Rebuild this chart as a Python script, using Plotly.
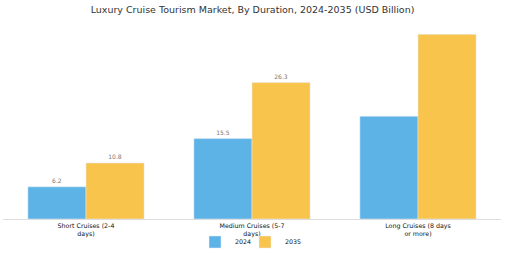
import plotly.graph_objects as go

categories = ["Short Cruises (2-4<br>days)", "Medium Cruises (5-7<br>days)", "Long Cruises (8 days<br>or more)"]
values_2024 = [6.2, 15.5, 19.8]
values_2035 = [10.8, 26.3, 35.6]
labels_2024 = ["6.2", "15.5", ""]
labels_2035 = ["10.8", "26.3", ""]

fig = go.Figure()
fig.add_trace(go.Bar(x=categories, y=values_2024, name="2024", marker_color="#5DB3E6",
                     text=labels_2024, textposition="outside", legend="legend",
                     showlegend=True,
                     textfont=dict(size=6, color="#777777"), cliponaxis=False))
fig.add_trace(go.Bar(x=categories, y=values_2035, name="2035", marker_color="#F9C44C",
                     text=labels_2035, textposition="outside", legend="legend2",
                     showlegend=True,
                     textfont=dict(size=6, color="#777777"), cliponaxis=False))

leg_common = dict(orientation="h", xanchor="left", xref="container",
                  y=11 / 253, yanchor="middle", yref="container",
                  font=dict(size=6.3, color="#111111"), itemwidth=30,
                  bgcolor="rgba(0,0,0,0)")

fig.update_layout(
    width=505, height=253,
    showlegend=True,
    margin=dict(l=3, r=4, t=25, b=34),
    paper_bgcolor="white", plot_bgcolor="white",
    barmode="group", bargap=0.3, bargroupgap=0,
    font=dict(family="DejaVu Sans", color="#222222"),
    title=dict(text="Luxury Cruise Tourism Market, By Duration, 2024-2035 (USD Billion)",
               x=0.5, xanchor="center", y=0.96, yanchor="middle",
               font=dict(size=9.5, color="#333333")),
    xaxis=dict(showline=True, linecolor="#dddddd", linewidth=1, ticks="",
               tickfont=dict(size=6.3, color="#111111"), range=[-0.5, 2.5],
               automargin=False),
    yaxis=dict(visible=False, range=[0, 37.4], automargin=False),
    legend=dict(x=195 / 505, **leg_common),
    legend2=dict(x=245 / 505, **leg_common),
)
fig.write_html("out.html")
